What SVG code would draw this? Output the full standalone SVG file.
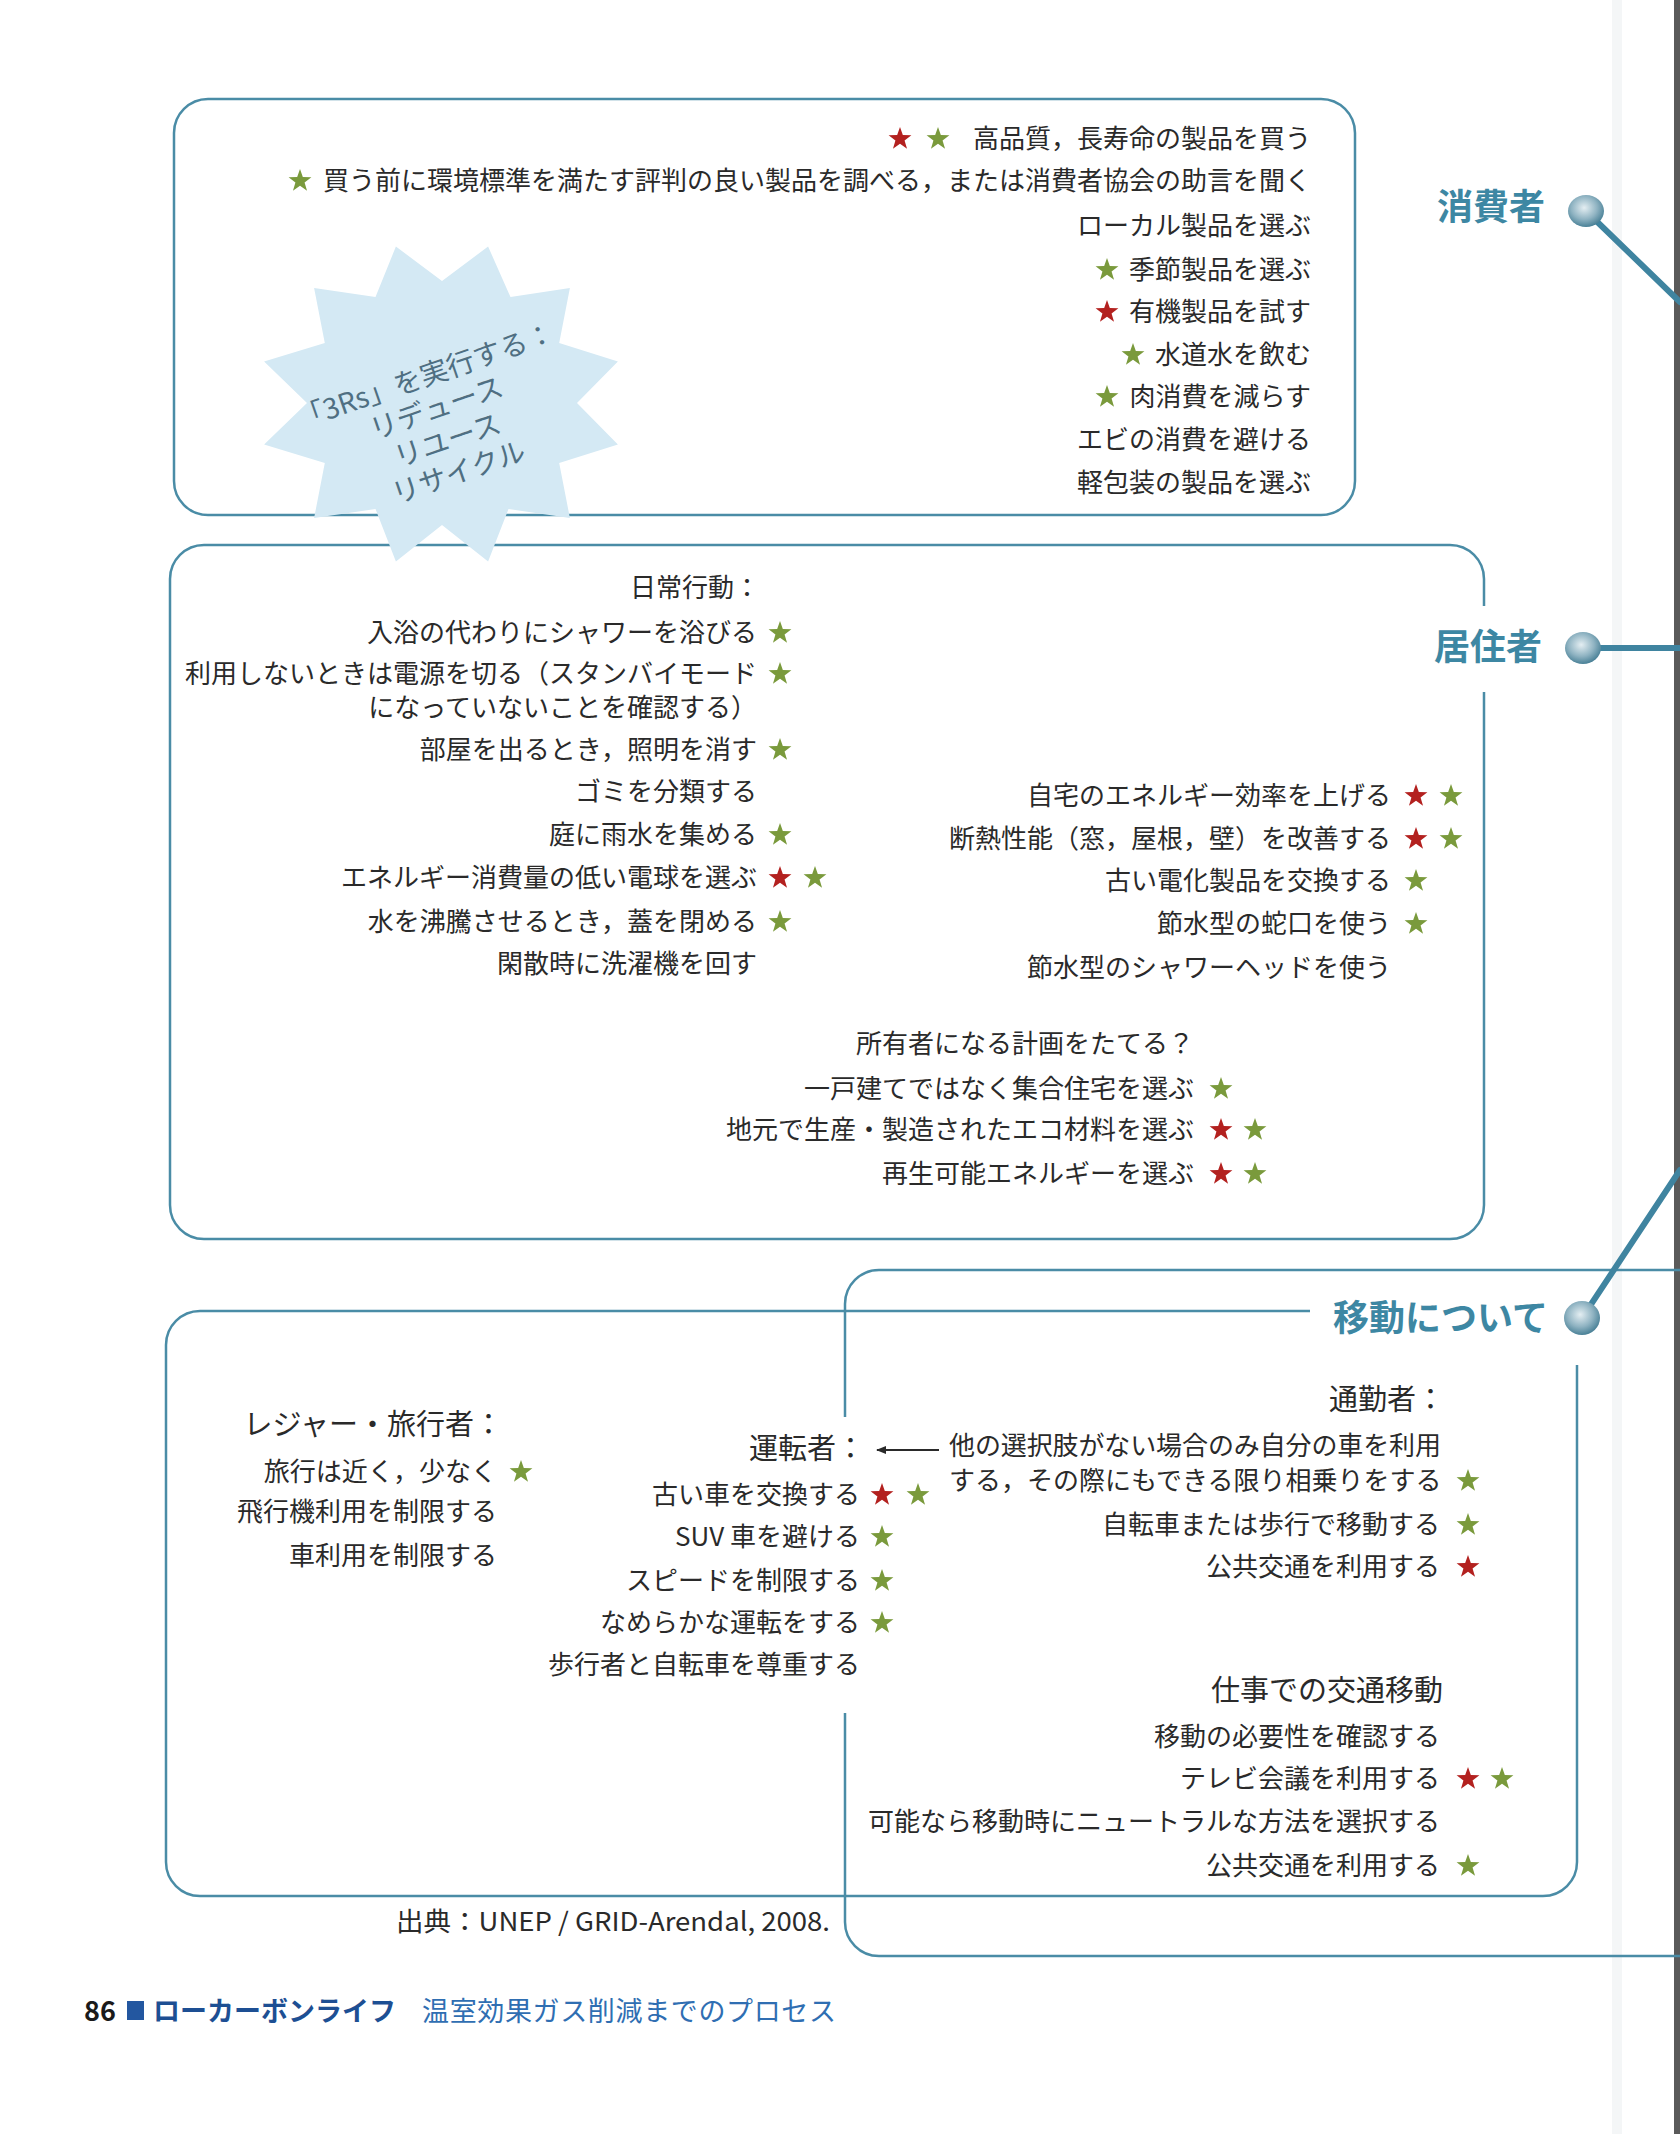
<svg xmlns="http://www.w3.org/2000/svg" width="1680" height="2134" viewBox="0 0 1680 2134">
<style>
.t{font-family:"Noto Sans CJK JP","Noto Sans",sans-serif;font-size:26px;fill:#2a2a2a}
.r{text-anchor:end}
.h{font-size:29px}
.lab{font-family:"Noto Sans CJK JP","Noto Sans",sans-serif;font-size:36px;font-weight:bold;fill:#3d87a3;text-anchor:end}
.box{fill:none;stroke:#4a8ca6;stroke-width:2.5}
.con{fill:none;stroke:#3f84a0;stroke-width:6;stroke-linecap:round}
.g{fill:#7a9a3c}
.rd{fill:#b3211f}
.burst{font-family:"Noto Sans CJK JP","Noto Sans",sans-serif;font-size:28px;fill:#4f6f82;text-anchor:middle}
</style>
<defs>
<path id="st" d="M0,-12 L2.82,-3.88 L11.41,-3.71 L4.57,1.48 L7.05,9.71 L0,4.8 L-7.05,9.71 L-4.57,1.48 L-11.41,-3.71 L-2.82,-3.88 Z"/>
<radialGradient id="pin" cx="0.45" cy="0.4" r="0.6">
<stop offset="0" stop-color="#e4eef2"/>
<stop offset="0.6" stop-color="#8fb3c2"/>
<stop offset="1" stop-color="#4a8197"/>
</radialGradient>
<marker id="ah" markerWidth="10" markerHeight="8" refX="9" refY="4" orient="auto" markerUnits="userSpaceOnUse">
<path d="M0,0 L10,4 L0,8 Z" fill="#2a2a2a"/>
</marker>
</defs>
<rect width="1680" height="2134" fill="#ffffff"/>
<rect x="1612" y="0" width="10" height="2134" fill="#f4f6f7"/>
<rect x="1674" y="0" width="6" height="2134" fill="#5a5a5a"/>

<g id="boxes">
<rect id="box-consumer" class="box" x="174" y="99" width="1181" height="416" rx="34"/>
<path id="box-resident" class="box" d="M1484,692 V1205 A34,34 0 0 1 1450,1239 H204 A34,34 0 0 1 170,1205 V579 A34,34 0 0 1 204,545 H1450 A34,34 0 0 1 1484,579 V606"/>
<path id="box-mobility-inner" class="box" d="M1310,1311 H200 A34,34 0 0 0 166,1345 V1862 A34,34 0 0 0 200,1896 H1543 A34,34 0 0 0 1577,1862 V1365"/>
<path id="box-mobility-outer" class="box" d="M1680,1270 H879 A34,34 0 0 0 845,1304 V1417 M845,1713 V1922 A34,34 0 0 0 879,1956 H1680"/>
</g>

<g id="connectors">
<line class="con" x1="1586" y1="211" x2="1680" y2="302"/>
<line class="con" x1="1583" y1="648" x2="1680" y2="648"/>
<line class="con" x1="1582" y1="1318" x2="1680" y2="1170"/>
<line x1="939" y1="1450" x2="877" y2="1450" stroke="#2a2a2a" stroke-width="2" marker-end="url(#ah)"/>
</g>

<g id="node-consumer">
<text class="lab" x="1545" y="220">消費者</text>
<ellipse cx="1586" cy="211" rx="18" ry="16" fill="url(#pin)"/>
</g>
<g id="node-resident">
<text class="lab" x="1542" y="660">居住者</text>
<ellipse cx="1583" cy="648" rx="18" ry="16" fill="url(#pin)"/>
</g>
<g id="node-mobility">
<text class="lab" x="1548" y="1331">移動について</text>
<ellipse cx="1582" cy="1318" rx="18" ry="17" fill="url(#pin)"/>
</g>

<g id="consumer-items">
<text class="t r" x="1311" y="148">高品質，長寿命の製品を買う</text>
<use href="#st" class="rd" x="900" y="139"/><use href="#st" class="g" x="938" y="139"/>
<text class="t r" x="1311" y="190">買う前に環境標準を満たす評判の良い製品を調べる，または消費者協会の助言を聞く</text>
<use href="#st" class="g" x="300" y="181"/>
<text class="t r" x="1311" y="235">ローカル製品を選ぶ</text>
<text class="t r" x="1311" y="279">季節製品を選ぶ</text>
<use href="#st" class="g" x="1107" y="270"/>
<text class="t r" x="1311" y="321">有機製品を試す</text>
<use href="#st" class="rd" x="1107" y="312"/>
<text class="t r" x="1311" y="364">水道水を飲む</text>
<use href="#st" class="g" x="1133" y="355"/>
<text class="t r" x="1311" y="406">肉消費を減らす</text>
<use href="#st" class="g" x="1107" y="397"/>
<text class="t r" x="1311" y="449">エビの消費を避ける</text>
<text class="t r" x="1311" y="492">軽包装の製品を選ぶ</text>
</g>

<g id="node-3rs">
<polygon fill="#d4e9f4" points="488.1,246.5 510.5,297.1 569.9,287.9 559.2,343 617.9,361.6 577,403 617.9,444.4 559.2,463 569.9,518.1 508.5,508.9 488.1,561.5 442,525 395.9,561.5 375.5,508.9 314.1,518.1 324.8,463 264.1,444.4 307,403 264.1,361.6 324.8,343 314.1,287.9 375.5,297.1 395.9,246.5 442,281"/>
<g transform="translate(442,424) rotate(-19)">
<text class="burst" x="0" y="-41">「3Rs」を実行する：</text>
<text class="burst" x="0" y="-7">リデュース</text>
<text class="burst" x="0" y="27">リユース</text>
<text class="burst" x="0" y="61">リサイクル</text>
</g>
</g>

<g id="resident-daily">
<text class="t r" x="760" y="597">日常行動：</text>
<text class="t r" x="757" y="642">入浴の代わりにシャワーを浴びる</text>
<use href="#st" class="g" x="780" y="633"/>
<text class="t r" x="757" y="683">利用しないときは電源を切る（スタンバイモード</text>
<use href="#st" class="g" x="780" y="674"/>
<text class="t r" x="757" y="717">になっていないことを確認する）</text>
<text class="t r" x="757" y="759">部屋を出るとき，照明を消す</text>
<use href="#st" class="g" x="780" y="750"/>
<text class="t r" x="757" y="801">ゴミを分類する</text>
<text class="t r" x="757" y="844">庭に雨水を集める</text>
<use href="#st" class="g" x="780" y="835"/>
<text class="t r" x="757" y="887">エネルギー消費量の低い電球を選ぶ</text>
<use href="#st" class="rd" x="780" y="878"/><use href="#st" class="g" x="815" y="878"/>
<text class="t r" x="757" y="931">水を沸騰させるとき，蓋を閉める</text>
<use href="#st" class="g" x="780" y="922"/>
<text class="t r" x="757" y="973">閑散時に洗濯機を回す</text>
</g>

<g id="resident-home">
<text class="t r" x="1391" y="805">自宅のエネルギー効率を上げる</text>
<use href="#st" class="rd" x="1416" y="796"/><use href="#st" class="g" x="1451" y="796"/>
<text class="t r" x="1391" y="848">断熱性能（窓，屋根，壁）を改善する</text>
<use href="#st" class="rd" x="1416" y="839"/><use href="#st" class="g" x="1451" y="839"/>
<text class="t r" x="1391" y="890">古い電化製品を交換する</text>
<use href="#st" class="g" x="1416" y="881"/>
<text class="t r" x="1391" y="933">節水型の蛇口を使う</text>
<use href="#st" class="g" x="1416" y="924"/>
<text class="t r" x="1391" y="977">節水型のシャワーヘッドを使う</text>
</g>

<g id="resident-owner">
<text class="t r" x="1194" y="1053">所有者になる計画をたてる？</text>
<text class="t r" x="1194" y="1098">一戸建てではなく集合住宅を選ぶ</text>
<use href="#st" class="g" x="1221" y="1089"/>
<text class="t r" x="1194" y="1139">地元で生産・製造されたエコ材料を選ぶ</text>
<use href="#st" class="rd" x="1221" y="1130"/><use href="#st" class="g" x="1255" y="1130"/>
<text class="t r" x="1194" y="1183">再生可能エネルギーを選ぶ</text>
<use href="#st" class="rd" x="1221" y="1174"/><use href="#st" class="g" x="1255" y="1174"/>
</g>

<g id="mobility-leisure">
<text class="t r h" x="503" y="1435">レジャー・旅行者：</text>
<text class="t r" x="497" y="1481">旅行は近く，少なく</text>
<use href="#st" class="g" x="521" y="1472"/>
<text class="t r" x="497" y="1521">飛行機利用を制限する</text>
<text class="t r" x="497" y="1565">車利用を制限する</text>
</g>

<g id="mobility-driver">
<text class="t r h" x="865" y="1459">運転者：</text>
<text class="t r" x="860" y="1504">古い車を交換する</text>
<use href="#st" class="rd" x="882" y="1495"/><use href="#st" class="g" x="918" y="1495"/>
<text class="t r" x="860" y="1546">SUV 車を避ける</text>
<use href="#st" class="g" x="882" y="1537"/>
<text class="t r" x="860" y="1590">スピードを制限する</text>
<use href="#st" class="g" x="882" y="1581"/>
<text class="t r" x="860" y="1632">なめらかな運転をする</text>
<use href="#st" class="g" x="882" y="1623"/>
<text class="t r" x="860" y="1674">歩行者と自転車を尊重する</text>
</g>

<g id="mobility-commuter">
<text class="t r h" x="1445" y="1410">通勤者：</text>
<text class="t" x="949" y="1455" textLength="492" lengthAdjust="spacing">他の選択肢がない場合のみ自分の車を利用</text>
<text class="t" x="949" y="1490">する，その際にもできる限り相乗りをする</text>
<use href="#st" class="g" x="1468" y="1481"/>
<text class="t r" x="1440" y="1534">自転車または歩行で移動する</text>
<use href="#st" class="g" x="1468" y="1525"/>
<text class="t r" x="1440" y="1576">公共交通を利用する</text>
<use href="#st" class="rd" x="1468" y="1567"/>
</g>

<g id="mobility-work">
<text class="t r h" x="1443" y="1701">仕事での交通移動</text>
<text class="t r" x="1440" y="1746">移動の必要性を確認する</text>
<text class="t r" x="1440" y="1788">テレビ会議を利用する</text>
<use href="#st" class="rd" x="1468" y="1779"/><use href="#st" class="g" x="1502" y="1779"/>
<text class="t r" x="1440" y="1831">可能なら移動時にニュートラルな方法を選択する</text>
<text class="t r" x="1440" y="1875">公共交通を利用する</text>
<use href="#st" class="g" x="1468" y="1866"/>
</g>

<g id="source">
<text class="t" x="396" y="1931" style="font-size:26px" textLength="434" lengthAdjust="spacingAndGlyphs">出典：UNEP / GRID-Arendal, 2008.</text>
</g>

<g id="footer">
<text x="84" y="2021" style="font-family:'Noto Sans CJK JP','Noto Sans',sans-serif;font-size:27px;font-weight:bold;fill:#1a1a1a">86</text>
<rect x="127" y="2001" width="17" height="19" fill="#2357a0"/>
<text x="153" y="2021" style="font-family:'Noto Sans CJK JP','Noto Sans',sans-serif;font-size:27px;font-weight:bold;fill:#1d4f93">ローカーボンライフ</text>
<text x="422" y="2021" style="font-family:'Noto Sans CJK JP','Noto Sans',sans-serif;font-size:27px;fill:#2f6eb2" textLength="414" lengthAdjust="spacing">温室効果ガス削減までのプロセス</text>
</g>
</svg>
